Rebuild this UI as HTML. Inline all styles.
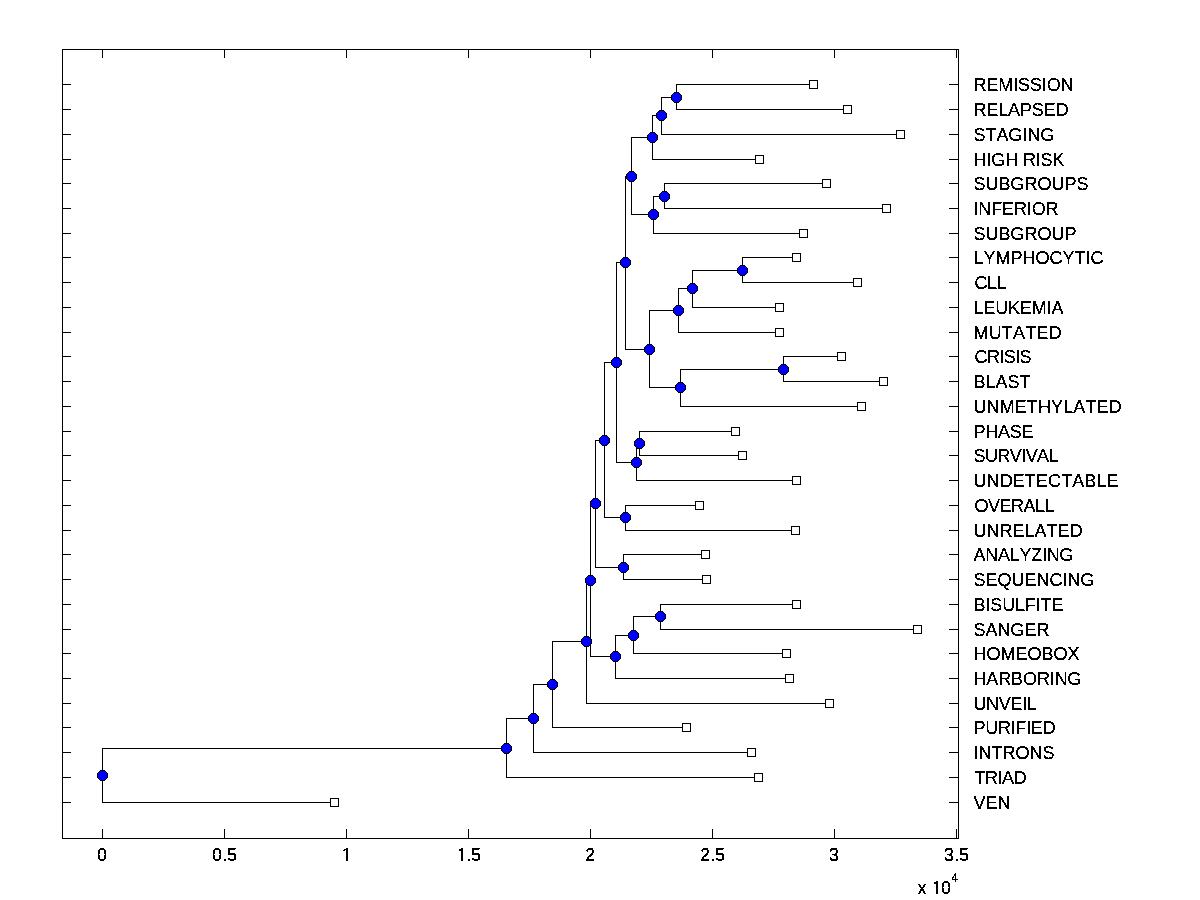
<!DOCTYPE html><html><head><meta charset="utf-8"><style>html,body{margin:0;padding:0;background:#fff;}svg{display:block;}text{font-family:"Liberation Sans",Arial,sans-serif;fill:#000;font-kerning:none;font-feature-settings:"kern" 0;}</style></head><body>
<svg width="1200" height="900" viewBox="0 0 1200 900" shape-rendering="crispEdges">
<defs>
<g id="c"><path fill="#000" d="M3 0h5v1h-5zM3 10h5v1h-5zM2 1h1v1h-1zM8 1h1v1h-1zM1 2h1v1h-1zM9 2h1v1h-1zM0 3h1v5h-1zM10 3h1v5h-1zM1 8h1v1h-1zM9 8h1v1h-1zM2 9h1v1h-1zM8 9h1v1h-1z"/><path fill="#00f" d="M3 1h5v1h-5zM2 2h7v1h-7zM1 3h9v5h-9zM2 8h7v1h-7zM3 9h5v1h-5z"/></g>
<g id="s"><path fill="#000" d="M0 0h9v9h-9z"/><path fill="#fff" d="M1 1h7v7h-7z"/></g>
<filter id="bin" x="0" y="0" width="1200" height="900" filterUnits="userSpaceOnUse" color-interpolation-filters="sRGB"><feComponentTransfer><feFuncA type="discrete" tableValues="0 1"/></feComponentTransfer></filter>
</defs>
<rect width="1200" height="900" fill="#fff"/>
<path fill="#000" d="M62 49h897v1h-897zM62 838h897v1h-897zM62 49h1v790h-1zM958 49h1v790h-1zM102 49h1v9h-1zM102 829h1v10h-1zM224 49h1v9h-1zM224 829h1v10h-1zM346 49h1v9h-1zM346 829h1v10h-1zM468 49h1v9h-1zM468 829h1v10h-1zM590 49h1v9h-1zM590 829h1v10h-1zM712 49h1v9h-1zM712 829h1v10h-1zM834 49h1v9h-1zM834 829h1v10h-1zM956 49h1v9h-1zM956 829h1v10h-1zM62 84h9v1h-9zM949 84h10v1h-10zM62 109h9v1h-9zM949 109h10v1h-10zM62 134h9v1h-9zM949 134h10v1h-10zM62 159h9v1h-9zM949 159h10v1h-10zM62 183h9v1h-9zM949 183h10v1h-10zM62 208h9v1h-9zM949 208h10v1h-10zM62 233h9v1h-9zM949 233h10v1h-10zM62 257h9v1h-9zM949 257h10v1h-10zM62 282h9v1h-9zM949 282h10v1h-10zM62 307h9v1h-9zM949 307h10v1h-10zM62 332h9v1h-9zM949 332h10v1h-10zM62 356h9v1h-9zM949 356h10v1h-10zM62 381h9v1h-9zM949 381h10v1h-10zM62 406h9v1h-9zM949 406h10v1h-10zM62 431h9v1h-9zM949 431h10v1h-10zM62 455h9v1h-9zM949 455h10v1h-10zM62 480h9v1h-9zM949 480h10v1h-10zM62 505h9v1h-9zM949 505h10v1h-10zM62 530h9v1h-9zM949 530h10v1h-10zM62 554h9v1h-9zM949 554h10v1h-10zM62 579h9v1h-9zM949 579h10v1h-10zM62 604h9v1h-9zM949 604h10v1h-10zM62 629h9v1h-9zM949 629h10v1h-10zM62 653h9v1h-9zM949 653h10v1h-10zM62 678h9v1h-9zM949 678h10v1h-10zM62 703h9v1h-9zM949 703h10v1h-10zM62 727h9v1h-9zM949 727h10v1h-10zM62 752h9v1h-9zM949 752h10v1h-10zM62 777h9v1h-9zM949 777h10v1h-10zM62 802h9v1h-9zM949 802h10v1h-10zM102 748h1v55h-1zM102 748h405v1h-405zM102 802h233v1h-233zM506 718h1v60h-1zM506 718h28v1h-28zM506 777h253v1h-253zM533 684h1v69h-1zM533 684h20v1h-20zM533 752h219v1h-219zM552 641h1v87h-1zM552 641h35v1h-35zM552 727h135v1h-135zM586 580h1v124h-1zM586 580h5v1h-5zM586 703h244v1h-244zM590 503h1v154h-1zM590 503h6v1h-6zM590 656h26v1h-26zM595 440h1v128h-1zM595 440h10v1h-10zM595 567h29v1h-29zM615 635h1v44h-1zM615 635h19v1h-19zM615 678h175v1h-175zM633 616h1v38h-1zM633 616h28v1h-28zM633 653h154v1h-154zM660 604h1v26h-1zM660 604h137v1h-137zM660 629h258v1h-258zM604 362h1v156h-1zM604 362h13v1h-13zM604 517h22v1h-22zM623 554h1v26h-1zM623 554h83v1h-83zM623 579h84v1h-84zM616 262h1v201h-1zM616 262h10v1h-10zM616 462h21v1h-21zM625 505h1v26h-1zM625 505h75v1h-75zM625 530h171v1h-171zM625 176h1v174h-1zM625 176h7v1h-7zM625 349h25v1h-25zM636 443h1v38h-1zM636 443h4v1h-4zM636 480h161v1h-161zM639 431h1v25h-1zM639 431h97v1h-97zM639 455h104v1h-104zM631 137h1v78h-1zM631 137h22v1h-22zM631 214h23v1h-23zM649 310h1v78h-1zM649 310h30v1h-30zM649 387h32v1h-32zM678 288h1v45h-1zM678 288h15v1h-15zM678 332h102v1h-102zM680 369h1v38h-1zM680 369h104v1h-104zM680 406h182v1h-182zM783 356h1v26h-1zM783 356h59v1h-59zM783 381h101v1h-101zM692 270h1v38h-1zM692 270h51v1h-51zM692 307h88v1h-88zM742 257h1v26h-1zM742 257h55v1h-55zM742 282h116v1h-116zM652 115h1v45h-1zM652 115h10v1h-10zM652 159h108v1h-108zM653 196h1v38h-1zM653 196h12v1h-12zM653 233h151v1h-151zM661 97h1v38h-1zM661 97h16v1h-16zM661 134h240v1h-240zM676 84h1v26h-1zM676 84h138v1h-138zM676 109h172v1h-172zM664 183h1v26h-1zM664 183h163v1h-163zM664 208h223v1h-223z"/>
<use href="#c" x="97" y="770"/>
<use href="#c" x="501" y="743"/>
<use href="#c" x="528" y="713"/>
<use href="#c" x="547" y="679"/>
<use href="#c" x="581" y="636"/>
<use href="#c" x="585" y="575"/>
<use href="#c" x="590" y="498"/>
<use href="#c" x="610" y="651"/>
<use href="#c" x="628" y="630"/>
<use href="#c" x="655" y="611"/>
<use href="#c" x="599" y="435"/>
<use href="#c" x="618" y="562"/>
<use href="#c" x="611" y="357"/>
<use href="#c" x="620" y="512"/>
<use href="#c" x="620" y="257"/>
<use href="#c" x="631" y="457"/>
<use href="#c" x="634" y="438"/>
<use href="#c" x="626" y="171"/>
<use href="#c" x="644" y="344"/>
<use href="#c" x="673" y="305"/>
<use href="#c" x="675" y="382"/>
<use href="#c" x="778" y="364"/>
<use href="#c" x="687" y="283"/>
<use href="#c" x="737" y="265"/>
<use href="#c" x="647" y="132"/>
<use href="#c" x="648" y="209"/>
<use href="#c" x="656" y="110"/>
<use href="#c" x="671" y="92"/>
<use href="#c" x="659" y="191"/>
<use href="#s" x="809" y="80"/>
<use href="#s" x="843" y="105"/>
<use href="#s" x="896" y="130"/>
<use href="#s" x="755" y="155"/>
<use href="#s" x="822" y="179"/>
<use href="#s" x="882" y="204"/>
<use href="#s" x="799" y="229"/>
<use href="#s" x="792" y="253"/>
<use href="#s" x="853" y="278"/>
<use href="#s" x="775" y="303"/>
<use href="#s" x="775" y="328"/>
<use href="#s" x="837" y="352"/>
<use href="#s" x="879" y="377"/>
<use href="#s" x="857" y="402"/>
<use href="#s" x="731" y="427"/>
<use href="#s" x="738" y="451"/>
<use href="#s" x="792" y="476"/>
<use href="#s" x="695" y="501"/>
<use href="#s" x="791" y="526"/>
<use href="#s" x="701" y="550"/>
<use href="#s" x="702" y="575"/>
<use href="#s" x="792" y="600"/>
<use href="#s" x="913" y="625"/>
<use href="#s" x="782" y="649"/>
<use href="#s" x="785" y="674"/>
<use href="#s" x="825" y="699"/>
<use href="#s" x="682" y="723"/>
<use href="#s" x="747" y="748"/>
<use href="#s" x="754" y="773"/>
<use href="#s" x="330" y="798"/>
<g filter="url(#bin)" stroke="#000" stroke-width="0.2" font-size="18">
<text x="973.5" y="91" dx="0 0 0 0.3 -0.3" textLength="100.02" lengthAdjust="spacing">REMISSION</text>
<text x="973.5" y="116" textLength="95.05" lengthAdjust="spacing">RELAPSED</text>
<text x="973.5" y="141" textLength="81.02" lengthAdjust="spacing">STAGING</text>
<text x="973.5" y="166" textLength="91.02" lengthAdjust="spacing">HIGH RISK</text>
<text x="973.5" y="190" textLength="115.03" lengthAdjust="spacing">SUBGROUPS</text>
<text x="973.5" y="215" textLength="85.02" lengthAdjust="spacing">INFERIOR</text>
<text x="973.5" y="240" textLength="103.03" lengthAdjust="spacing">SUBGROUP</text>
<text x="973.5" y="264" textLength="130.03" lengthAdjust="spacing">LYMPHOCYTIC</text>
<text x="974.5" y="289" textLength="32.03" lengthAdjust="spacing">CLL</text>
<text x="973.5" y="314" textLength="90.03" lengthAdjust="spacing">LEUKEMIA</text>
<text x="973.5" y="339" textLength="88" lengthAdjust="spacing">MUTATED</text>
<text x="974.5" y="363" dx="0 0 0 0 0.3 -0.3" textLength="57.02" lengthAdjust="spacing">CRISIS</text>
<text x="973.5" y="388" textLength="57.03" lengthAdjust="spacing">BLAST</text>
<text x="973.5" y="413" textLength="148.02" lengthAdjust="spacing">UNMETHYLATED</text>
<text x="973.5" y="438" textLength="60.03" lengthAdjust="spacing">PHASE</text>
<text x="973.5" y="462" textLength="85.05" lengthAdjust="spacing">SURVIVAL</text>
<text x="973.5" y="487" textLength="145.03" lengthAdjust="spacing">UNDETECTABLE</text>
<text x="974.5" y="512" textLength="80.05" lengthAdjust="spacing">OVERALL</text>
<text x="973.5" y="537" textLength="109.03" lengthAdjust="spacing">UNRELATED</text>
<text x="973.5" y="561" dx="0 0 0 0 0 0 0.3 -0.3" textLength="100.03" lengthAdjust="spacing">ANALYZING</text>
<text x="973.5" y="586" textLength="121.03" lengthAdjust="spacing">SEQUENCING</text>
<text x="973.5" y="611" textLength="90.03" lengthAdjust="spacing">BISULFITE</text>
<text x="973.5" y="636" textLength="76.03" lengthAdjust="spacing">SANGER</text>
<text x="973.5" y="660" textLength="106.02" lengthAdjust="spacing">HOMEOBOX</text>
<text x="973.5" y="685" textLength="108.02" lengthAdjust="spacing">HARBORING</text>
<text x="973.5" y="710" dx="0 0 0 0 0.3 -0.3" textLength="63.03" lengthAdjust="spacing">UNVEIL</text>
<text x="973.5" y="734" dx="0 0 0 0 0 0.3 -0.3" textLength="82.02" lengthAdjust="spacing">PURIFIED</text>
<text x="973.5" y="759" textLength="81" lengthAdjust="spacing">INTRONS</text>
<text x="974.5" y="784" textLength="52" lengthAdjust="spacing">TRIAD</text>
<text x="973.5" y="809" textLength="37.02" lengthAdjust="spacing">VEN</text>
</g>
<g filter="url(#bin)" stroke="#000" stroke-width="0.28" font-size="18">
<text x="97" y="861">0</text>
<text x="212 222.5 227" y="861">0.5</text>
<text x="341" y="861" style="font-family:NanumGothic,Liberation Sans,sans-serif">1</text>
<text x="457 466.5 471" y="861">1.5</text>
<text x="585" y="861">2</text>
<text x="700 710.5 715" y="861">2.5</text>
<text x="829" y="861">3</text>
<text x="944 954.5 959" y="861">3.5</text>
<text x="917.5 926.5 932 941" y="894">x 10</text>
</g>
<path fill="#fff" d="M458 859h3v2h-3zM463 859h3v2h-3zM933 892h3v2h-3zM938 892h3v2h-3z"/>
<g filter="url(#bin)"><text x="951.25" y="882" font-size="12">4</text></g>
</svg></body></html>
